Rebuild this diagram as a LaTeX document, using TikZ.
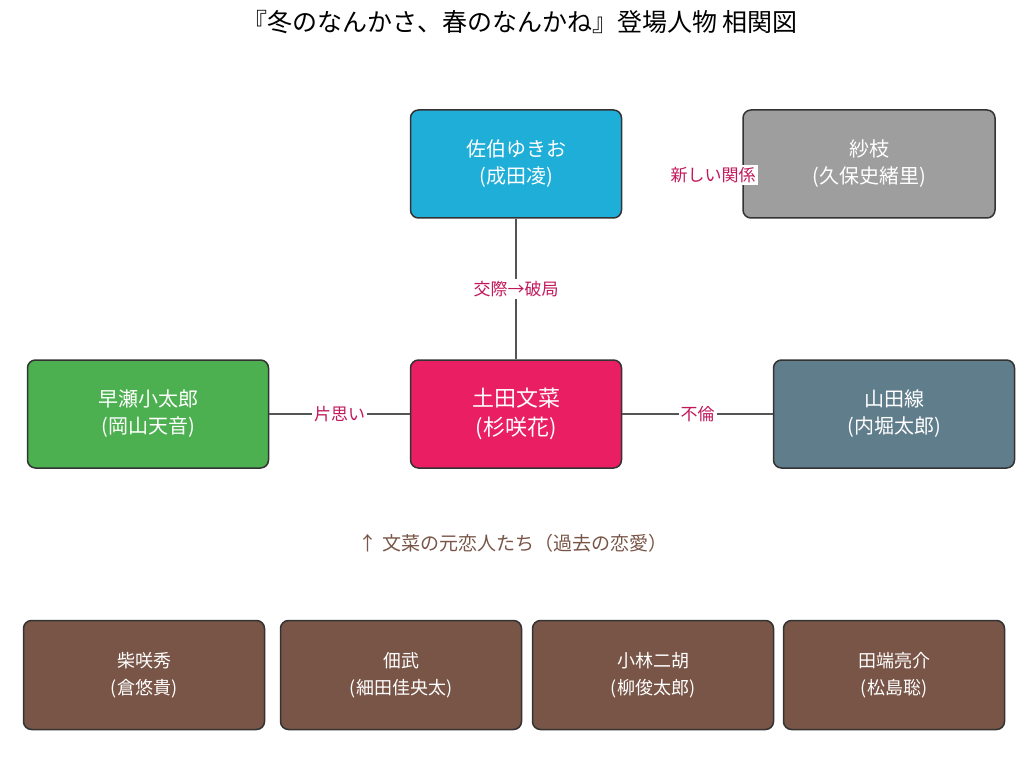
\documentclass[tikz,border=0pt]{standalone}
\usepackage{fontspec}
\setmainfont{Noto Sans CJK JP}
\usetikzlibrary{positioning}
\definecolor{sakublue}{HTML}{1EAED8}
\definecolor{saegray}{HTML}{9E9E9E}
\definecolor{fumipink}{HTML}{E91E63}
\definecolor{hayagreen}{HTML}{4CAF50}
\definecolor{yamaslate}{HTML}{607D8B}
\definecolor{exbrown}{HTML}{795548}
\definecolor{relred}{HTML}{C2185B}
\definecolor{edgegray}{HTML}{555555}
\tikzset{
  person/.style={rectangle,rounded corners=8pt,draw=black!80,line width=1.5pt,text=white,align=center,font=\fontsize{20}{27}\selectfont,minimum width=211pt,minimum height=108pt},
  wide/.style={person,minimum width=241pt},
  ex/.style={person,fill=exbrown,minimum width=241pt,minimum height=109pt,font=\fontsize{18}{27}\selectfont},
  link/.style={-,draw=edgegray,line width=2pt},
  rel/.style={fill=white,text=relred,inner sep=2pt,font=\fontsize{17}{20}\selectfont}
}
\begin{document}
\begin{tikzpicture}[x=1pt,y=-1pt]
	\useasboundingbox[fill=white] (0,0) rectangle (1033,778);
	\node [font=\fontsize{25}{30}\selectfont] (title) at (520,22) {『冬のなんかさ、春のなんかね』登場人物 相関図};
	% main people
	\node [person,fill=sakublue] (saeki) at (516,164) {佐伯ゆきお\\(成田凌)};
	\node [person,fill=saegray,minimum width=252pt] (sae) at (869,164) {紗枝\\(久保史緒里)};
	\node [person,fill=fumipink,font=\fontsize{22}{29}\selectfont] (fumina) at (516,414) {土田文菜\\(杉咲花)};
	\node [wide,fill=hayagreen] (hayase) at (148,414) {早瀬小太郎\\(岡山天音)};
	\node [wide,fill=yamaslate] (yamada) at (894,414) {山田線\\(内堀太郎)};
	% former lovers
	\node [ex] (shiba) at (144,675) {柴咲秀\\(倉悠貴)};
	\node [ex] (tsukuda) at (401,675) {佃武\\(細田佳央太)};
	\node [ex] (kobayashi) at (653,675) {小林二胡\\(柳俊太郎)};
	\node [ex,minimum width=221pt] (tabata) at (894,675) {田端亮介\\(松島聡)};
	\node [text=exbrown,font=\fontsize{19}{24}\selectfont] (exnote) at (513,543) {↑ 文菜の元恋人たち（過去の恋愛）};
	% relations
	\draw [link] (saeki) to node [rel] {交際→破局} (fumina);
	\draw [link] (hayase) to node [rel] {片思い} (fumina);
	\draw [link] (fumina) to node [rel] {不倫} (yamada);
	\node [rel] (newrel) at (713,175) {新しい関係};
\end{tikzpicture}
\end{document}
